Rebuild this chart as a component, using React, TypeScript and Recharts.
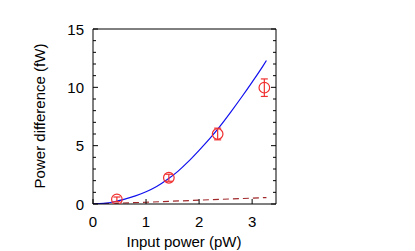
import React from 'react';
import { ComposedChart, Line, Scatter, ErrorBar, XAxis, YAxis } from 'recharts';

// measured points (input power pW, power difference fW, error)
const measX = [0.45, 1.43, 2.35, 3.23];
const measY = [0.4, 2.25, 6.0, 9.97];
const measErr = [0.2, 0.3, 0.5, 0.75];

// model curve (solid blue)
const fitX = [0, 0.2, 0.4, 0.6, 0.8, 1.0, 1.2, 1.4, 1.6, 1.8, 2.0, 2.2, 2.4, 2.6, 2.8, 3.0, 3.2, 3.27];
const fitY = [0, 0.05, 0.19, 0.42, 0.7, 1.05, 1.5, 2.1, 2.8, 3.65, 4.6, 5.6, 6.7, 7.9, 9.15, 10.45, 11.8, 12.3];

// dashed reference
const dashX = [0, 1, 2, 3.27];
const dashY = [0, 0.15, 0.33, 0.55];

const xTicks = [0, 1, 2, 3];
const yTicks = [0, 1, 2, 3, 4, 5, 6, 7, 8, 9, 10, 11, 12, 13, 14, 15];

const meas = measX.map((x, i) => ({ x, y: measY[i], e: measErr[i] }));
const fit = fitX.map((x, i) => ({ x, y: fitY[i] }));
const dash = dashX.map((x, i) => ({ x, y: dashY[i] }));

const font = '"Liberation Sans", Arial, sans-serif';

const BottomTick = (p: any) => (
  <g>
    <line x1={p.x} y1={p.y} x2={p.x} y2={p.y - 5} stroke="#000" />
    <text x={p.x} y={p.y + 23} textAnchor="middle" fontSize={15} fontFamily={font} fill="#000">
      {p.payload.value}
    </text>
  </g>
);

const TopTick = (p: any) => <line x1={p.x} y1={p.y} x2={p.x} y2={p.y + 5} stroke="#000" />;

const LeftTick = (p: any) => {
  const major = p.payload.value % 5 === 0;
  return (
    <g>
      <line x1={p.x} y1={p.y} x2={p.x + (major ? 5 : 3)} y2={p.y} stroke="#000" />
      {major && (
        <text x={p.x - 9} y={p.y + 5.5} textAnchor="end" fontSize={15} fontFamily={font} fill="#000">
          {p.payload.value}
        </text>
      )}
    </g>
  );
};

const RightTick = (p: any) => {
  const major = p.payload.value % 5 === 0;
  return <line x1={p.x} y1={p.y} x2={p.x - (major ? 5 : 3)} y2={p.y} stroke="#000" />;
};

const Ring = (p: any) => <circle cx={p.cx} cy={p.cy} r={5.3} fill="none" stroke="#f03030" strokeWidth={1.2} />;

export default function App() {
  return (
    <div style={{ position: 'absolute', left: 0, top: 0, width: 415, height: 251, background: '#fff' }}>
      <ComposedChart width={415} height={251} margin={{ top: 0, right: 0, bottom: 0, left: 0 }}>
        <XAxis
          dataKey="x"
          type="number"
          domain={[0, 3.45]}
          ticks={xTicks}
          allowDataOverflow
          height={47}
          tickSize={0}
          tickMargin={0}
          tickLine={false}
          tick={BottomTick}
          axisLine={{ stroke: '#000' }}
        />
        <XAxis
          xAxisId="top"
          orientation="top"
          type="number"
          domain={[0, 3.45]}
          ticks={xTicks}
          allowDataOverflow
          height={29}
          tickSize={0}
          tickMargin={0}
          tickLine={false}
          tick={TopTick}
          axisLine={{ stroke: '#000' }}
        />
        <YAxis
          dataKey="y"
          type="number"
          domain={[0, 15]}
          ticks={yTicks}
          interval={0}
          allowDataOverflow
          width={93}
          tickSize={0}
          tickMargin={0}
          tickLine={false}
          tick={LeftTick}
          axisLine={{ stroke: '#000' }}
        />
        <YAxis
          yAxisId="right"
          orientation="right"
          type="number"
          domain={[0, 15]}
          ticks={yTicks}
          interval={0}
          allowDataOverflow
          width={139}
          tickSize={0}
          tickMargin={0}
          tickLine={false}
          tick={RightTick}
          axisLine={{ stroke: '#000' }}
        />
        <Line
          data={dash}
          dataKey="y"
          type="linear"
          stroke="#a0282a"
          strokeWidth={1.2}
          strokeDasharray="6 4"
          dot={false}
          isAnimationActive={false}
        />
        <Line
          data={fit}
          dataKey="y"
          type="monotone"
          stroke="#1010ee"
          strokeWidth={1.2}
          dot={false}
          isAnimationActive={false}
        />
        <Scatter data={meas} dataKey="y" shape={Ring} isAnimationActive={false}>
          <ErrorBar dataKey="e" direction="y" width={3.5} stroke="#f03030" strokeWidth={1.2} isAnimationActive={false} />
        </Scatter>
        <text x={184} y={247} textAnchor="middle" fontSize={15} fontFamily={font} fill="#000">
          Input power (pW)
        </text>
        <text
          x={45}
          y={116}
          textAnchor="middle"
          fontSize={15}
          fontFamily={font}
          fill="#000"
          transform="rotate(-90, 45, 116)"
        >
          Power difference (fW)
        </text>
      </ComposedChart>
    </div>
  );
}
